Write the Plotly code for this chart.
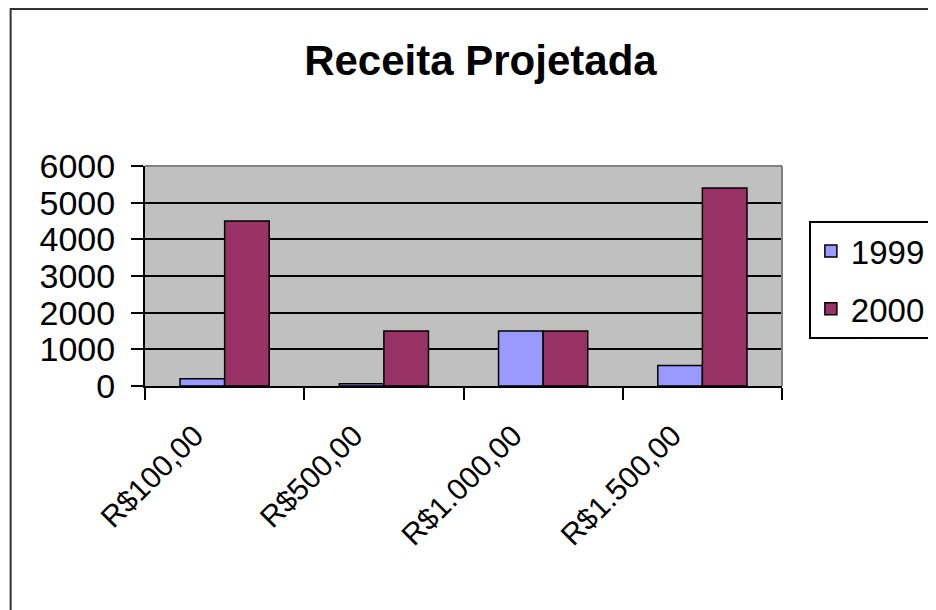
import plotly.graph_objects as go

# Projected revenue by price point
categories = ["R$100,00", "R$500,00", "R$1.000,00", "R$1.500,00"]
values_1999 = [200, 60, 1500, 560]
values_2000 = [4500, 1500, 1500, 5400]
y_ticks = [0, 1000, 2000, 3000, 4000, 5000, 6000]

FONT = "Liberation Sans, Arial, sans-serif"

# page body has an 8px default margin, so the margins are offset by 8px
fig = go.Figure()
fig.add_trace(go.Bar(
    x=categories, y=values_1999, name="1999", legendgroup="a",
    marker=dict(color="#9999FF", line=dict(color="#000000", width=1.5)),
))
fig.add_trace(go.Bar(
    x=categories, y=values_2000, name="2000", legendgroup="b",
    marker=dict(color="#993366", line=dict(color="#000000", width=1.5)),
))

fig.update_layout(
    width=936, height=610,
    margin=dict(l=137, r=159, t=158, b=232),
    paper_bgcolor="white",
    plot_bgcolor="#C0C0C0",
    barmode="group",
    bargap=0.44,
    bargroupgap=0,
    font=dict(family=FONT, size=32, color="#000000"),
    title=dict(
        text="<b>Receita Projetada</b>",
        x=(482 - 145) / 640, xref="paper", xanchor="center",
        y=1 - 52 / 610, yanchor="middle",
        font=dict(family=FONT, size=42, color="#000000"),
    ),
    xaxis=dict(
        type="category",
        tickangle=-45,
        ticks="outside", ticklen=12, tickwidth=2, tickcolor="#000000",
        tickson="boundaries",
        ticklabelshift=-30, ticklabelstandoff=18,
        showline=True, linecolor="#000000", linewidth=2,
        showgrid=False,
        tickfont=dict(size=30),
    ),
    yaxis=dict(
        range=[0, 6000],
        tickvals=y_ticks,
        ticks="outside", ticklen=12, tickwidth=2, tickcolor="#000000",
        ticklabelstandoff=9,
        showline=True, linecolor="#000000", linewidth=2,
        showgrid=True, gridcolor="#000000", gridwidth=2,
        zeroline=False,
        tickfont=dict(size=34),
    ),
    legend=dict(
        x=(812 - 145) / 640, xanchor="left",
        y=(386 - 221) / 220, yanchor="top",
        bgcolor="white",
        bordercolor="#000000", borderwidth=2,
        font=dict(size=33),
        traceorder="grouped",
        tracegroupgap=12,
        entrywidth=140, entrywidthmode="pixels",
    ),
    shapes=[
        # plot-area border on top and right (light)
        dict(type="line", xref="paper", yref="paper", x0=0, x1=1, y0=1, y1=1,
             line=dict(color="#808080", width=2)),
        dict(type="line", xref="paper", yref="paper", x0=1, x1=1, y0=0, y1=1,
             line=dict(color="#808080", width=2)),
        # chart-area frame
        dict(type="rect", xref="paper", yref="paper",
             x0=(10 - 145) / 640, x1=1.4, y0=-1.2, y1=(386 - 9) / 220,
             line=dict(color="#333333", width=2), layer="below"),
    ],
)

fig.write_html("out.html")
